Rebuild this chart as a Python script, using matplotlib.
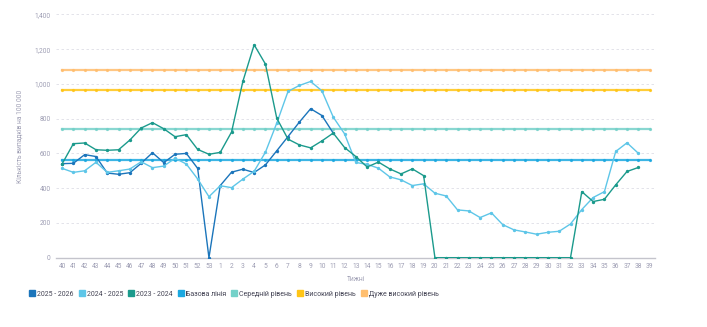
import matplotlib

matplotlib.use("Agg")
import matplotlib.pyplot as plt
import numpy as np
from matplotlib.ticker import FuncFormatter

plt.rcParams["font.family"] = ["Roboto", "DejaVu Sans"]

weeks = [str(w) for w in list(range(40, 54)) + list(range(1, 40))]

season_2025_2026 = [541, 543, 593, 582, 487, 480, 489, 543, 604, 547, 595, 600, 514, 0,
                    415, 492, 509, 490, 534, 615, 697, 780, 857, 818, 717]
season_2024_2025 = [514, 491, 500, 549, 491, 500, 510, 552, 518, 527, 572, 539, 453, 351,
                    414, 403, 452, 497, 607, 774, 957, 991, 1014, 960, 809, 713, 548, 537,
                    515, 465, 448, 415, 425, 371, 355, 275, 269, 231, 258, 190, 160, 148,
                    135, 146, 152, 194, 277, 346, 380, 611, 661, 601]
season_2023_2024 = [539, 656, 660, 621, 618, 621, 677, 746, 777, 742, 696, 708, 623, 595,
                    606, 723, 1014, 1225, 1114, 803, 682, 649, 632, 672, 717, 634, 582, 522,
                    550, 511, 482, 511, 472, 0, 0, 0, 0, 0, 0, 0, 0, 0,
                    0, 0, 0, 0, 380, 323, 336, 419, 496, 519]

baseline = 563
medium_level = 741
high_level = 966
very_high_level = 1082

series = [
    ("2025 - 2026", season_2025_2026, "#1b75bb"),
    ("2024 - 2025", season_2024_2025, "#5ec6e8"),
    ("2023 - 2024", season_2023_2024, "#1b9a8c"),
]
thresholds = [
    ("Базова лінія", baseline, "#1ba8e0"),
    ("Середній рівень", medium_level, "#74d1c9"),
    ("Високий рівень", high_level, "#ffc516"),
    ("Дуже високий рівень", very_high_level, "#ffbe6e"),
]

TICK_COLOR = "#9d9db3"

fig = plt.figure(figsize=(7.07, 3.27), dpi=100)
ax = fig.add_axes([0.0798, 0.212, 0.847, 0.744])

x = np.arange(len(weeks))
for label, level, color in thresholds:
    ax.plot(x, np.full(len(weeks), level), color=color, lw=1.6, alpha=0.85,
            marker="o", ms=1.3, label=label, zorder=2)
for label, values, color in series:
    ax.plot(x[:len(values)], values, color=color, lw=1.0, marker="o", ms=1.4,
            label=label, zorder=3)

ax.set_xlim(-0.5, len(weeks) - 0.5)
ax.set_ylim(0, 1400)
ax.set_yticks(np.arange(0, 1401, 200))
ax.yaxis.set_major_formatter(FuncFormatter(lambda v, _: f"{int(v):,}"))
ax.set_xticks(x)
ax.set_xticklabels(weeks)
ax.grid(axis="y", color="#dedee6", ls=(0, (3, 3)), lw=0.6)
ax.set_axisbelow(True)
for side in ("top", "right", "left"):
    ax.spines[side].set_visible(False)
ax.spines["bottom"].set_color("#c4c4cc")
ax.spines["bottom"].set_linewidth(1.0)
ax.tick_params(axis="both", length=0, labelsize=4.8, colors=TICK_COLOR, pad=4)
ax.set_xlabel("Тижні", fontsize=4.8, color=TICK_COLOR, labelpad=4)
ax.set_ylabel("Кількість випадків на 100 000", fontsize=4.8, color=TICK_COLOR, labelpad=8)

handles, labels = ax.get_legend_handles_labels()
order = [4, 5, 6, 0, 1, 2, 3]
proxies = [plt.Line2D([], [], ls="none", marker="s", ms=5, color=h.get_color(), alpha=1.0)
           for h in handles]
leg = fig.legend([proxies[i] for i in order], [labels[i] for i in order],
                 loc="center left", bbox_to_anchor=(0.032, 0.1), ncol=7, frameon=False,
                 fontsize=5, handletextpad=0.2, columnspacing=0.68, handlelength=1.0)
for text in leg.get_texts():
    text.set_color("#444455")

fig.savefig("out.png", dpi=100)
